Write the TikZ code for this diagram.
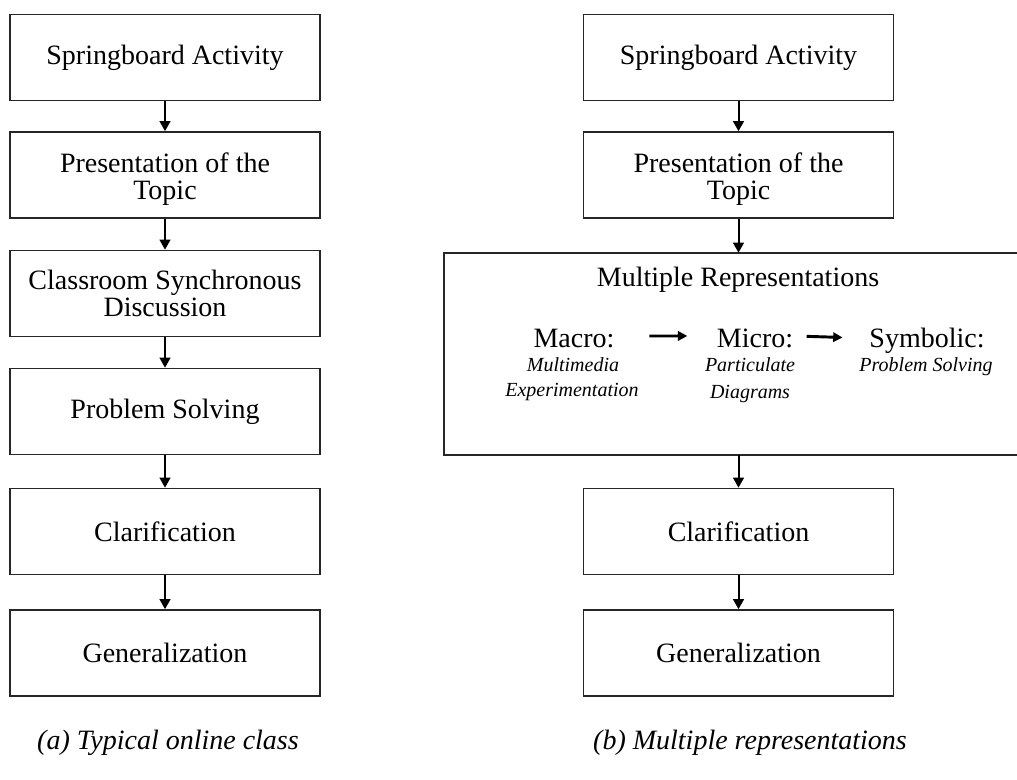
\documentclass[tikz,border=0pt]{standalone}
\usepackage{fontspec}
\setmainfont{Liberation Serif}
\usetikzlibrary{arrows.meta}
\begin{document}
\begin{tikzpicture}[x=0.75pt,y=-0.75pt,
  stepbox/.style={draw=black!85, line width=1.2pt, minimum width=232.5pt,
    minimum height=64.5pt, inner sep=0pt, align=center,
    font=\fontsize{21}{20.5}\selectfont},
  bigtext/.style={inner sep=0pt, anchor=base, font=\fontsize{21}{21}\selectfont},
  subtext/.style={inner sep=0pt, anchor=base, font=\fontsize{15}{15}\selectfont\itshape},
  captext/.style={inner sep=0pt, anchor=base, font=\fontsize{21}{21}\selectfont\itshape},
  flowarrow/.style={line width=1.5pt, -{Triangle[length=7.5pt,width=8pt]}},
  innerarrow/.style={line width=2.2pt, -{Triangle[length=7pt,width=7pt]}}
]
\useasboundingbox (0,0) rectangle (1017,780);

% (a) left column
\node[stepbox] (a1) at (165,57.5) {Springboard Activity};
\node[stepbox] (a2) at (165,175) {\rule{0pt}{21pt}Presentation of the\\Topic};
\node[stepbox] (a3) at (165,293.5) {Classroom Synchronous\\Discussion};
\node[stepbox] (a4) at (165,411.5) {Problem Solving};
\node[stepbox] (a5) at (165,531.5) {Clarification};
\node[stepbox] (a6) at (165,653) {Generalization};

\draw[flowarrow] (a1) -- (a2);
\draw[flowarrow] (a2) -- (a3);
\draw[flowarrow] (a3) -- (a4);
\draw[flowarrow] (a4) -- (a5);
\draw[flowarrow] (a5) -- (a6);

% (b) right column
\node[stepbox] (b1) at (738.5,57.5) {Springboard Activity};
\node[stepbox] (b2) at (738.5,175) {\rule{0pt}{21pt}Presentation of the\\Topic};
\node[inner sep=0pt, minimum width=429.75pt, minimum height=151.5pt] (mr) at (730.5,354) {};
\draw[draw=black!85, line width=1.2pt] (mr.north east) -- (mr.north west) -- (mr.south west) -- (mr.south east);
\node[stepbox] (b5) at (738.5,531.5) {Clarification};
\node[stepbox] (b6) at (738.5,653) {Generalization};

\node[bigtext] (mrtitle) at (738,287) {Multiple Representations};
\node[bigtext] (macro) at (574,348) {Macro:};
\node[subtext] (macroa) at (573,372) {Multimedia};
\node[subtext] (macrob) at (572,397) {Experimentation};
\node[bigtext] (micro) at (755,348) {Micro:};
\node[subtext] (microa) at (750,372) {Particulate};
\node[subtext] (microb) at (750,398) {Diagrams};
\node[bigtext] (symb) at (927,348) {Symbolic:};
\node[subtext] (symba) at (926,372) {Problem Solving};

\draw[innerarrow, shorten <=26pt, shorten >=22pt] ([yshift=2.25pt]macro.east) -- ([yshift=2.25pt]micro.west);
\draw[innerarrow, shorten <=10pt, shorten >=20pt] ([yshift=2.25pt]micro.east) -- ([yshift=2.25pt]symb.west);

\draw[flowarrow] (b1) -- (b2);
\draw[flowarrow] (b2.south) -- (b2.south |- mr.north);
\draw[flowarrow] (b5.north |- mr.south) -- (b5.north);
\draw[flowarrow] (b5) -- (b6);

% captions
\node[captext] (capa) at (168,749) {(a) Typical online class};
\node[captext] (capb) at (750,749) {(b) Multiple representations};
\end{tikzpicture}
\end{document}
